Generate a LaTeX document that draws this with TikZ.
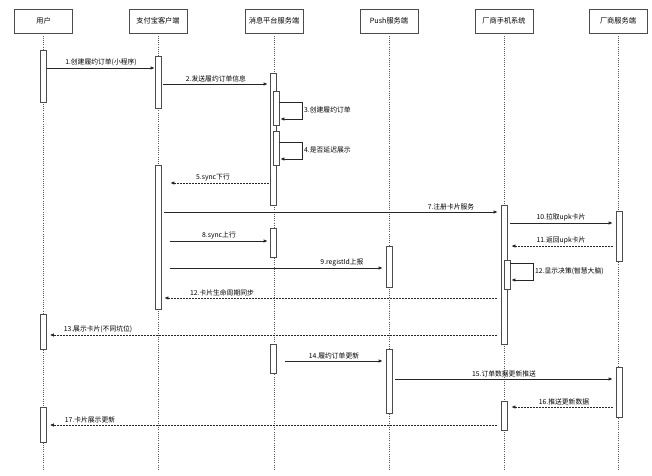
\documentclass[tikz,border=0pt]{standalone}
\usepackage{fontspec}
\setmainfont{Noto Sans CJK SC}
\usetikzlibrary{arrows.meta}
\begin{document}
\begin{tikzpicture}[x=1pt,y=-1pt,
  head/.style={draw=black!70,line width=0.7pt,minimum width=58pt,minimum height=24pt,inner sep=0pt,font=\fontsize{7.2}{8}\selectfont},
  life/.style={draw=black!65,line width=0.7pt,dash pattern=on 1pt off 1.2pt},
  act/.style={draw=black!70,fill=white,line width=0.7pt,minimum width=6pt,inner sep=0pt},
  msg/.style={draw=black!85,line width=0.7pt,-{Latex[length=4pt,width=3.4pt]}},
  ret/.style={msg,dash pattern=on 1.6pt off 1.4pt},
  lab/.style={font=\fontsize{6.8}{7.5}\selectfont,inner sep=1pt,anchor=south},
  slab/.style={font=\fontsize{6.8}{7.5}\selectfont,inner sep=1pt,anchor=west}]
\useasboundingbox (0,0) rectangle (652,475);
\fill[white] (0,0) rectangle (652,475);
% headers
\node[head] (H1) at (43.5,21) {用户};
\node[head] (H2) at (158,21) {支付宝客户端};
\node[head] (H3) at (274,21) {消息平台服务端};
\node[head] (H4) at (389,21) {Push服务端};
\node[head] (H5) at (504,21) {厂商手机系统};
\node[head] (H6) at (618,21) {厂商服务端};
% lifelines
\foreach \n in {1,...,6}{\coordinate (E\n) at (H\n.south |- 0,470); \draw[life] (H\n.south) -- (E\n);}
% activations
\node[act,minimum height=52pt] (u1) at (43.5,76) {};
\node[act,minimum height=35pt] (u2) at (43.5,331.5) {};
\node[act,minimum height=35pt] (u3) at (43.5,424.5) {};
\node[act,minimum height=52pt] (a1) at (158,82) {};
\node[act,minimum height=144pt] (a2) at (158,237) {};
\node[act,minimum height=132pt] (m1) at (273,139) {};
\node[act,minimum height=34pt] (m3) at (276,108) {};
\node[act,minimum height=34pt] (m4) at (276,148) {};
\node[act,minimum height=29pt] (m8) at (273,242.5) {};
\node[act,minimum height=29pt] (m14) at (273,358.5) {};
\node[act,minimum height=41pt] (p9) at (389,266.5) {};
\node[act,minimum height=64pt] (p14) at (389,381) {};
\node[act,minimum height=139pt] (h1) at (504,274.5) {};
\node[act,minimum height=29pt] (h12) at (507,274.5) {};
\node[act,minimum height=29pt] (h16) at (504,415.5) {};
\node[act,minimum height=50pt] (s1) at (619,236) {};
\node[act,minimum height=50pt] (s2) at (619,392) {};
% messages
\draw[msg] (u1.east |- 0,68) -- (a1.west |- 0,68);
\node[lab] (l1) at (101,67) {1.创建履约订单(小程序)};
\draw[msg] ([xshift=2pt]a1.east |- 0,84) -- ([xshift=-2pt]m1.west |- 0,84);
\node[lab] (l2) at (216,83) {2.发送履约订单信息};
\coordinate (c3a) at (302,102); \coordinate (c3b) at (302,119);
\draw[msg] (m3.east |- 0,102) -- (c3a) -- (c3b) -- ([xshift=1pt]m3.east |- 0,119);
\node[slab] (l3) at (303,110) {3.创建履约订单};
\coordinate (c4a) at (302,142); \coordinate (c4b) at (302,159);
\draw[msg] (m4.east |- 0,142) -- (c4a) -- (c4b) -- ([xshift=1pt]m4.east |- 0,159);
\node[slab] (l4) at (303,150) {4.是否延迟展示};
\draw[ret] ([xshift=-1pt]m1.west |- 0,183) -- ([xshift=9pt]a2.east |- 0,183);
\node[lab] (l5) at (213,182) {5.sync下行};
\draw[msg] ([xshift=3pt]a2.east |- 0,212) -- ([xshift=-3pt]h1.west |- 0,212);
\node[lab] (l7) at (451,211) {7.注册卡片服务};
\draw[msg] ([xshift=9pt]a2.east |- 0,241) -- ([xshift=-2pt]m8.west |- 0,241);
\node[lab] (l8) at (219,240) {8.sync上行};
\draw[msg] ([xshift=9pt]a2.east |- 0,268) -- ([xshift=-3pt]p9.west |- 0,268);
\node[lab] (l9) at (342,267) {9.registId上报};
\draw[msg] ([xshift=3pt]h1.east |- 0,223) -- ([xshift=-3pt]s1.west |- 0,223);
\node[lab] (l10) at (561,222) {10.拉取upk卡片};
\draw[ret] ([xshift=-3pt]s1.west |- 0,246) -- ([xshift=4pt]h1.east |- 0,246);
\node[lab] (l11) at (561,245) {11.返回upk卡片};
\coordinate (c12a) at (533,263); \coordinate (c12b) at (533,280);
\draw[msg] (h12.east |- 0,263) -- (c12a) -- (c12b) -- ([xshift=1pt]h12.east |- 0,280);
\node[slab] (l12) at (534,271) {12.显示决策(智慧大脑)};
\draw[ret] ([xshift=-4pt]h1.west |- 0,298) -- ([xshift=3pt]a2.east |- 0,298);
\node[lab] (l12b) at (222,297) {12.卡片生命周期同步};
\draw[ret] ([xshift=-4pt]h1.west |- 0,335) -- ([xshift=3pt]u2.east |- 0,335);
\node[lab] (l13) at (98,334) {13.展示卡片(不同坑位)};
\draw[msg] ([xshift=9pt]m14.east |- 0,361) -- ([xshift=-3pt]p14.west |- 0,361);
\node[lab] (l14) at (334,360) {14.履约订单更新};
\draw[msg] ([xshift=3pt]p14.east |- 0,379) -- ([xshift=-3pt]s2.west |- 0,379);
\node[lab] (l15) at (504,378) {15.订单数据更新推送};
\draw[ret] ([xshift=-3pt]s2.west |- 0,407) -- ([xshift=4pt]h16.east |- 0,407);
\node[lab] (l16) at (564,406) {16.推送更新数据};
\draw[ret] ([xshift=-4pt]h16.west |- 0,425) -- ([xshift=3pt]u3.east |- 0,425);
\node[lab] (l17) at (90,424) {17.卡片展示更新};
\end{tikzpicture}
\end{document}
